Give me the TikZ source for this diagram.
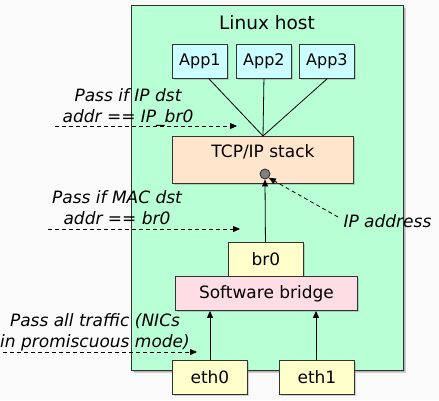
\documentclass[tikz,border=0pt]{standalone}
\usepackage{fontspec}
\setmainfont{DejaVu Sans}
\usetikzlibrary{arrows.meta,shadows}

\definecolor{pagebg}{RGB}{250,250,250}
\definecolor{hostfill}{RGB}{184,255,214}
\definecolor{appfill}{RGB}{204,255,255}
\definecolor{stackfill}{RGB}{255,229,204}
\definecolor{ifacefill}{RGB}{255,255,204}
\definecolor{bridgefill}{RGB}{255,221,228}
\definecolor{edge}{RGB}{50,50,50}

\tikzset{
  box/.style={draw=edge, line width=0.9pt, inner sep=0pt, anchor=north west,
    drop shadow={shadow xshift=1.5pt, shadow yshift=-1.5pt, opacity=0.35}},
  hostbox/.style={box, fill=hostfill,
    drop shadow={shadow xshift=3pt, shadow yshift=-3pt, opacity=0.35}},
  appbox/.style={box, fill=appfill, minimum width=55pt, minimum height=34pt, font=\fontsize{16}{18}\selectfont},
  ifacebox/.style={box, fill=ifacefill, minimum width=75pt, minimum height=34pt},
  note/.style={align=center, font=\fontsize{17}{21}\selectfont\itshape},
  tip/.style={-{Triangle[length=7pt,width=6pt]}},
  link/.style={draw=black, line width=0.8pt},
  hint/.style={link, dash pattern=on 4pt off 3pt, tip},
}

\begin{document}
\begin{tikzpicture}[x=1pt, y=-1pt, font=\fontsize{17}{21}\selectfont]
  \fill[pagebg] (0,0) rectangle (439,400);
  \useasboundingbox (0,0) rectangle (439,400);

  % host frame
  \node[hostbox, minimum width=272pt, minimum height=365pt] (host) at (131,5) {};
  \node[font=\fontsize{18.5}{20}\selectfont] (hostlabel) at (267,23) {Linux host};

  % applications
  \node[appbox] (app1) at (172,44) {App1};
  \node[appbox] (app2) at (236,44) {App2};
  \node[appbox] (app3) at (299,44) {App3};

  % network stack
  \node[box, fill=stackfill, minimum width=181pt, minimum height=47pt] (tcp) at (172,136) {};
  \node (tcplabel) at (263,152) {TCP/IP stack};
  \node[circle, draw=edge, fill=gray, line width=0.9pt, minimum size=10pt, inner sep=0pt] (ip) at (265,174) {};

  % bridge and interfaces
  \node[box, fill=ifacefill, minimum width=75pt, minimum height=34pt] (br0) at (228,242) {br0};
  \node[box, fill=bridgefill, minimum width=182pt, minimum height=34pt] (bridge) at (175,276) {Software bridge};
  \node[ifacebox] (eth0) at (172,360) {eth0};
  \node[ifacebox] (eth1) at (279,360) {eth1};

  % app sockets
  \coordinate (join) at (263,136);
  \draw[link] (app1.south west) ++(37,0) -- (join);
  \draw[link] (app2.south) -- (join);
  \draw[link] (app3.south west) ++(28,0) -- (join);

  % upward data path
  \draw[link, tip] (br0.north) ++(-0.5,0) -- (ip.south);
  \draw[link, tip] ([xshift=38pt]eth0.north west) -- ([xshift=38pt]eth0.north west |- bridge.south);
  \draw[link, tip] ([xshift=37pt]eth1.north west) -- ([xshift=37pt]eth1.north west |- bridge.south);

  % IP address callout
  \node[note, anchor=west] (iplabel) at (340,221) {IP address};
  \coordinate (ipfrom) at (338,217);
  \draw[hint] (ipfrom) -- (ip.south east);

  % filtering notes
  \node[note] (n1) at (128,107.5) {Pass if IP dst\\addr == IP\_br0};
  \coordinate (n1a) at (55,126);
  \coordinate (n1b) at (237,126);
  \draw[hint] (n1a) -- (n1b);

  \node[note] (n2) at (117,208) {Pass if MAC dst\\addr == br0};
  \coordinate (n2a) at (48,229);
  \coordinate (n2b) at (240,229);
  \draw[hint] (n2a) -- (n2b);

  \node[note] (n3) at (95,332.5) {Pass all traffic (NICs\\in promiscuous mode)};
  \coordinate (n3a) at (3,352);
  \coordinate (n3b) at (197,352);
  \draw[hint] (n3a) -- (n3b);
\end{tikzpicture}
\end{document}
